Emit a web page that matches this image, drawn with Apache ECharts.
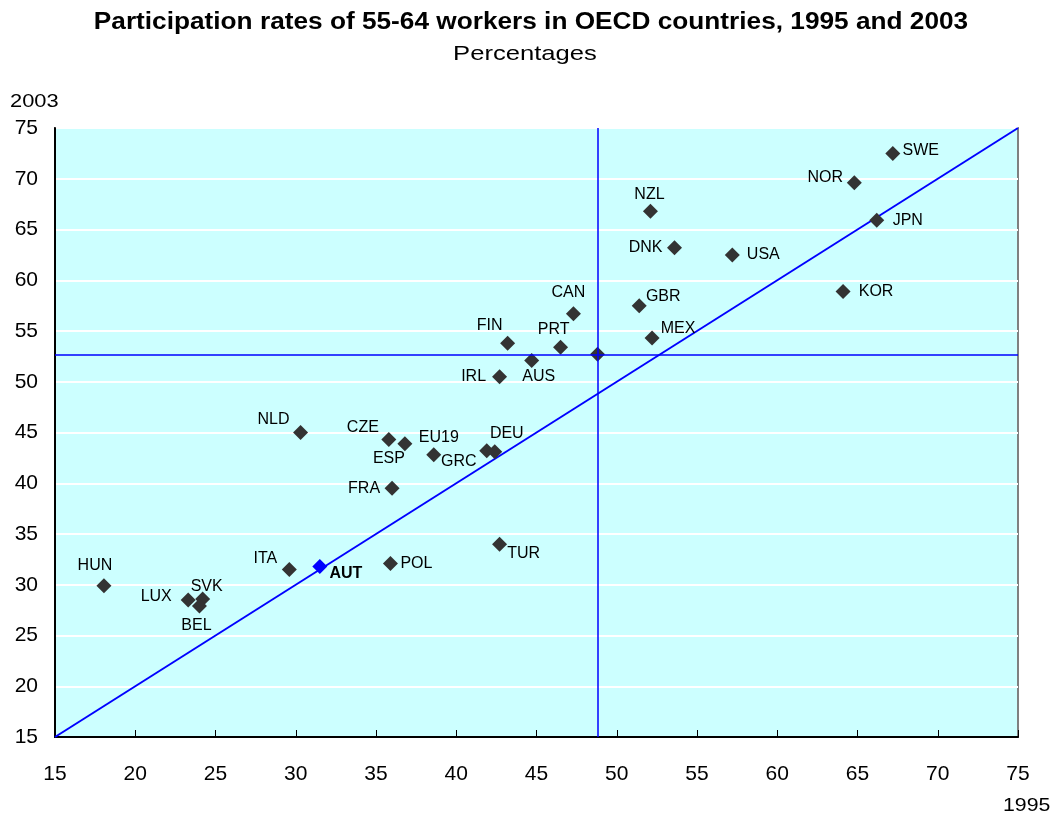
<!DOCTYPE html>
<html>
<head>
<meta charset="utf-8">
<script src="https://cdn.jsdelivr.net/npm/echarts@6/dist/echarts.min.js"></script>
<style>html,body{margin:0;padding:0;background:#fff;}#c{width:1058px;height:820px;}</style>
</head>
<body>
<div id="c"></div>
<script>
// Data: participation rates of 55-64 workers, 1995 (x) and 2003 (y)
const countries = ['SWE','NOR','JPN','KOR','USA','NZL','DNK','GBR','MEX','CAN','PRT','FIN','AUS','IRL','NLD','CZE','ESP','EU19','GRC','DEU','FRA','TUR','POL','ITA','HUN','LUX','SVK','BEL'];
const rate1995 = [67.2,64.8,66.2,64.1,57.2,52.1,53.6,51.4,52.2,47.3,46.5,43.2,44.7,42.7,30.3,35.8,36.8,38.6,41.9,42.4,36.0,42.7,35.9,29.6,18.05,23.3,24.2,24.0];
const rate2003 = [72.5,69.6,65.9,58.9,62.5,66.8,63.2,57.5,54.3,56.7,53.4,53.8,52.1,50.5,45.0,44.3,43.9,42.8,43.2,43.1,39.5,34.0,32.1,31.5,29.9,28.5,28.6,27.9];
const highlightName = 'AUT';
const highlight1995 = 31.5;
const highlight2003 = 31.8;
const oecd1995 = 48.8;
const oecd2003 = 52.7;
const axisTicks = [15,20,25,30,35,40,45,50,55,60,65,70,75];

// Label placement (style only): offset of label centre from marker centre, px
const labelOffsets = {
  SWE:[28,-3], NOR:[-29,-5], JPN:[31,0], KOR:[33,0], USA:[31,0], NZL:[-1,-17], DNK:[-29,0],
  GBR:[24,-9], MEX:[26,-10], CAN:[-5,-21], PRT:[-7,-18], FIN:[-18,-18], AUS:[7,16], IRL:[-26,0],
  NLD:[-27,-13], CZE:[-26,-12], ESP:[-16,15], EU19:[5,-17], GRC:[-28,11], DEU:[12,-18],
  FRA:[-28,0], TUR:[24,9], POL:[26,0], ITA:[-24,-11], HUN:[-9,-20], LUX:[-32,-3], SVK:[4,-12], BEL:[-3,20]
};

const fontFam = '"Liberation Sans", Arial, sans-serif';
const labelStyle = {show:true, position:'inside', color:'#000', fontSize:16, fontFamily:fontFam, textBorderWidth:0, opacity:1};
const pts = countries.map((c,i)=>({
  name:c, value:[rate1995[i],rate2003[i]],
  label:Object.assign({}, labelStyle, {offset:labelOffsets[c], formatter:c})
}));

const chart = echarts.init(document.getElementById('c'));
chart.setOption({
  animation:false,
  graphic:[
    {type:'text', x:531, y:11, scaleX:1.14, z:10,
     style:{x:0, y:0, text:'Participation rates of 55-64 workers in OECD countries, 1995 and 2003', textAlign:'center', textVerticalAlign:'top',
       fontFamily:fontFam, fontWeight:'bold', fontSize:23, fill:'#000'}},
    {type:'text', x:525, y:44, scaleX:1.22, z:10,
     style:{x:0, y:0, text:'Percentages', textAlign:'center', textVerticalAlign:'top', fontFamily:fontFam, fontSize:21, fill:'#000'}},
    {type:'text', x:10, y:92, scaleX:1.15, z:10,
     style:{x:0, y:0, text:'2003', textVerticalAlign:'top', fontFamily:fontFam, fontSize:19, fill:'#000'}},
    {type:'text', x:1003, y:796, scaleX:1.12, z:10,
     style:{x:0, y:0, text:'1995', textVerticalAlign:'top', fontFamily:fontFam, fontSize:19, fill:'#000'}}
  ],
  grid:{left:55, right:40, top:128, bottom:83, show:true, backgroundColor:'#CCFFFF', borderColor:'#808080', borderWidth:2},
  xAxis:{type:'value', min:15, max:75, interval:5,
    axisLine:{show:true, onZero:false, lineStyle:{color:'#000', width:2}},
    axisTick:{show:true, inside:true, length:7, lineStyle:{color:'#000'}},
    axisLabel:{margin:27, fontSize:21, fontFamily:fontFam, color:'#000',
      formatter:v=>axisTicks.includes(v)?String(v):''},
    splitLine:{show:false}},
  yAxis:{type:'value', min:15, max:75, interval:5,
    axisLine:{show:true, onZero:false, lineStyle:{color:'#000', width:2}},
    axisTick:{show:false},
    axisLabel:{margin:17, fontSize:21, fontFamily:fontFam, color:'#000',
      formatter:v=>axisTicks.includes(v)?String(v):''},
    splitLine:{show:true, lineStyle:{color:'#FFFFFF', width:2}}},
  series:[
    {type:'line', data:[[15,15],[75,75]], symbol:'none', lineStyle:{color:'#0000FF', width:2}, z:2,
     markLine:{silent:true, symbol:'none', label:{show:false},
       lineStyle:{color:'#0000FF', width:1.5, type:'solid'},
       data:[{xAxis:oecd1995},{yAxis:oecd2003}]}},
    {type:'scatter', symbol:'diamond', symbolSize:15, itemStyle:{color:'#333333', opacity:1}, z:3,
     data:pts.concat([{name:'OECD', value:[oecd1995,oecd2003], label:{show:false}}])},
    {type:'scatter', symbol:'diamond', symbolSize:15, itemStyle:{color:'#0000FF', opacity:1}, z:4,
     data:[{name:highlightName, value:[highlight1995,highlight2003],
       label:Object.assign({}, labelStyle, {offset:[26,7], formatter:highlightName, fontWeight:'bold'})}]}
  ]
});
</script>
</body>
</html>
